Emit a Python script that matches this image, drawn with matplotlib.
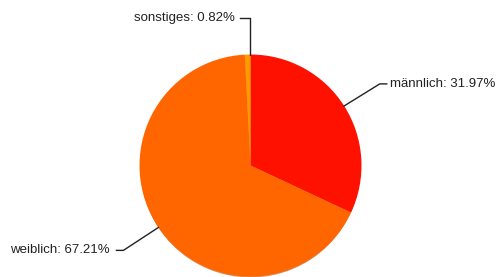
import numpy as np
import matplotlib
matplotlib.use("Agg")
import matplotlib.pyplot as plt

# Geschlechterverteilung
labels = ["männlich", "weiblich", "sonstiges"]
values = [31.97, 67.21, 0.82]
colors = ["#ff1100", "#ff6600", "#ff9900"]

plt.rcParams["font.family"] = ["Liberation Sans", "DejaVu Sans"]

W, H = 499, 277
fig = plt.figure(figsize=(W / 100, H / 100), dpi=100)
ax = fig.add_axes([0, 0, 1, 1])

cx, cy, r = 250.5, 111.5, 111

# soft shadow along the lower rim
shadow = plt.Circle((cx, cy - 2.0), r - 1.0, color="#b84a00", alpha=0.6, zorder=1, lw=0)
ax.add_patch(shadow)

wedges, _ = ax.pie(values, colors=colors, startangle=90, counterclock=False,
                   radius=r, center=(cx, cy), frame=True,
                   wedgeprops=dict(linewidth=0, zorder=2))
ax.set_xlim(0, W)
ax.set_ylim(0, H)
ax.set_aspect("equal")
ax.axis("off")

# leader lines + labels
for w, lab, val in zip(wedges, labels, values):
    ang = np.deg2rad((w.theta1 + w.theta2) / 2)
    x0, y0 = cx + r * np.cos(ang), cy + r * np.sin(ang)
    if lab == "sonstiges":
        x1, y1 = x0 + 2, cy + r + 37
        x2 = x1 - 10
        ax.plot([x0 + 2, x1, x2], [y0, y1, y1], color="#222222", lw=1, zorder=3)
        ax.text(x2 - 5, y1, f"{lab}: {val:.2f}%", ha="right", va="center",
                fontsize=9.5, color="#222222")
        continue
    x1, y1 = cx + 1.38 * r * np.cos(ang), cy + 1.37 * r * np.sin(ang)
    side = 1 if np.cos(ang) > 0 else -1
    x2 = x1 + side * 7
    gap = 3 if side > 0 else 7
    ax.plot([x0, x1, x2], [y0, y1, y1], color="#222222", lw=1, zorder=3)
    ax.text(x2 + side * gap, y1, f"{lab}: {val:.2f}%",
            ha="left" if side > 0 else "right", va="center",
            fontsize=9.5, color="#222222")

fig.savefig("out.png", dpi=100)
